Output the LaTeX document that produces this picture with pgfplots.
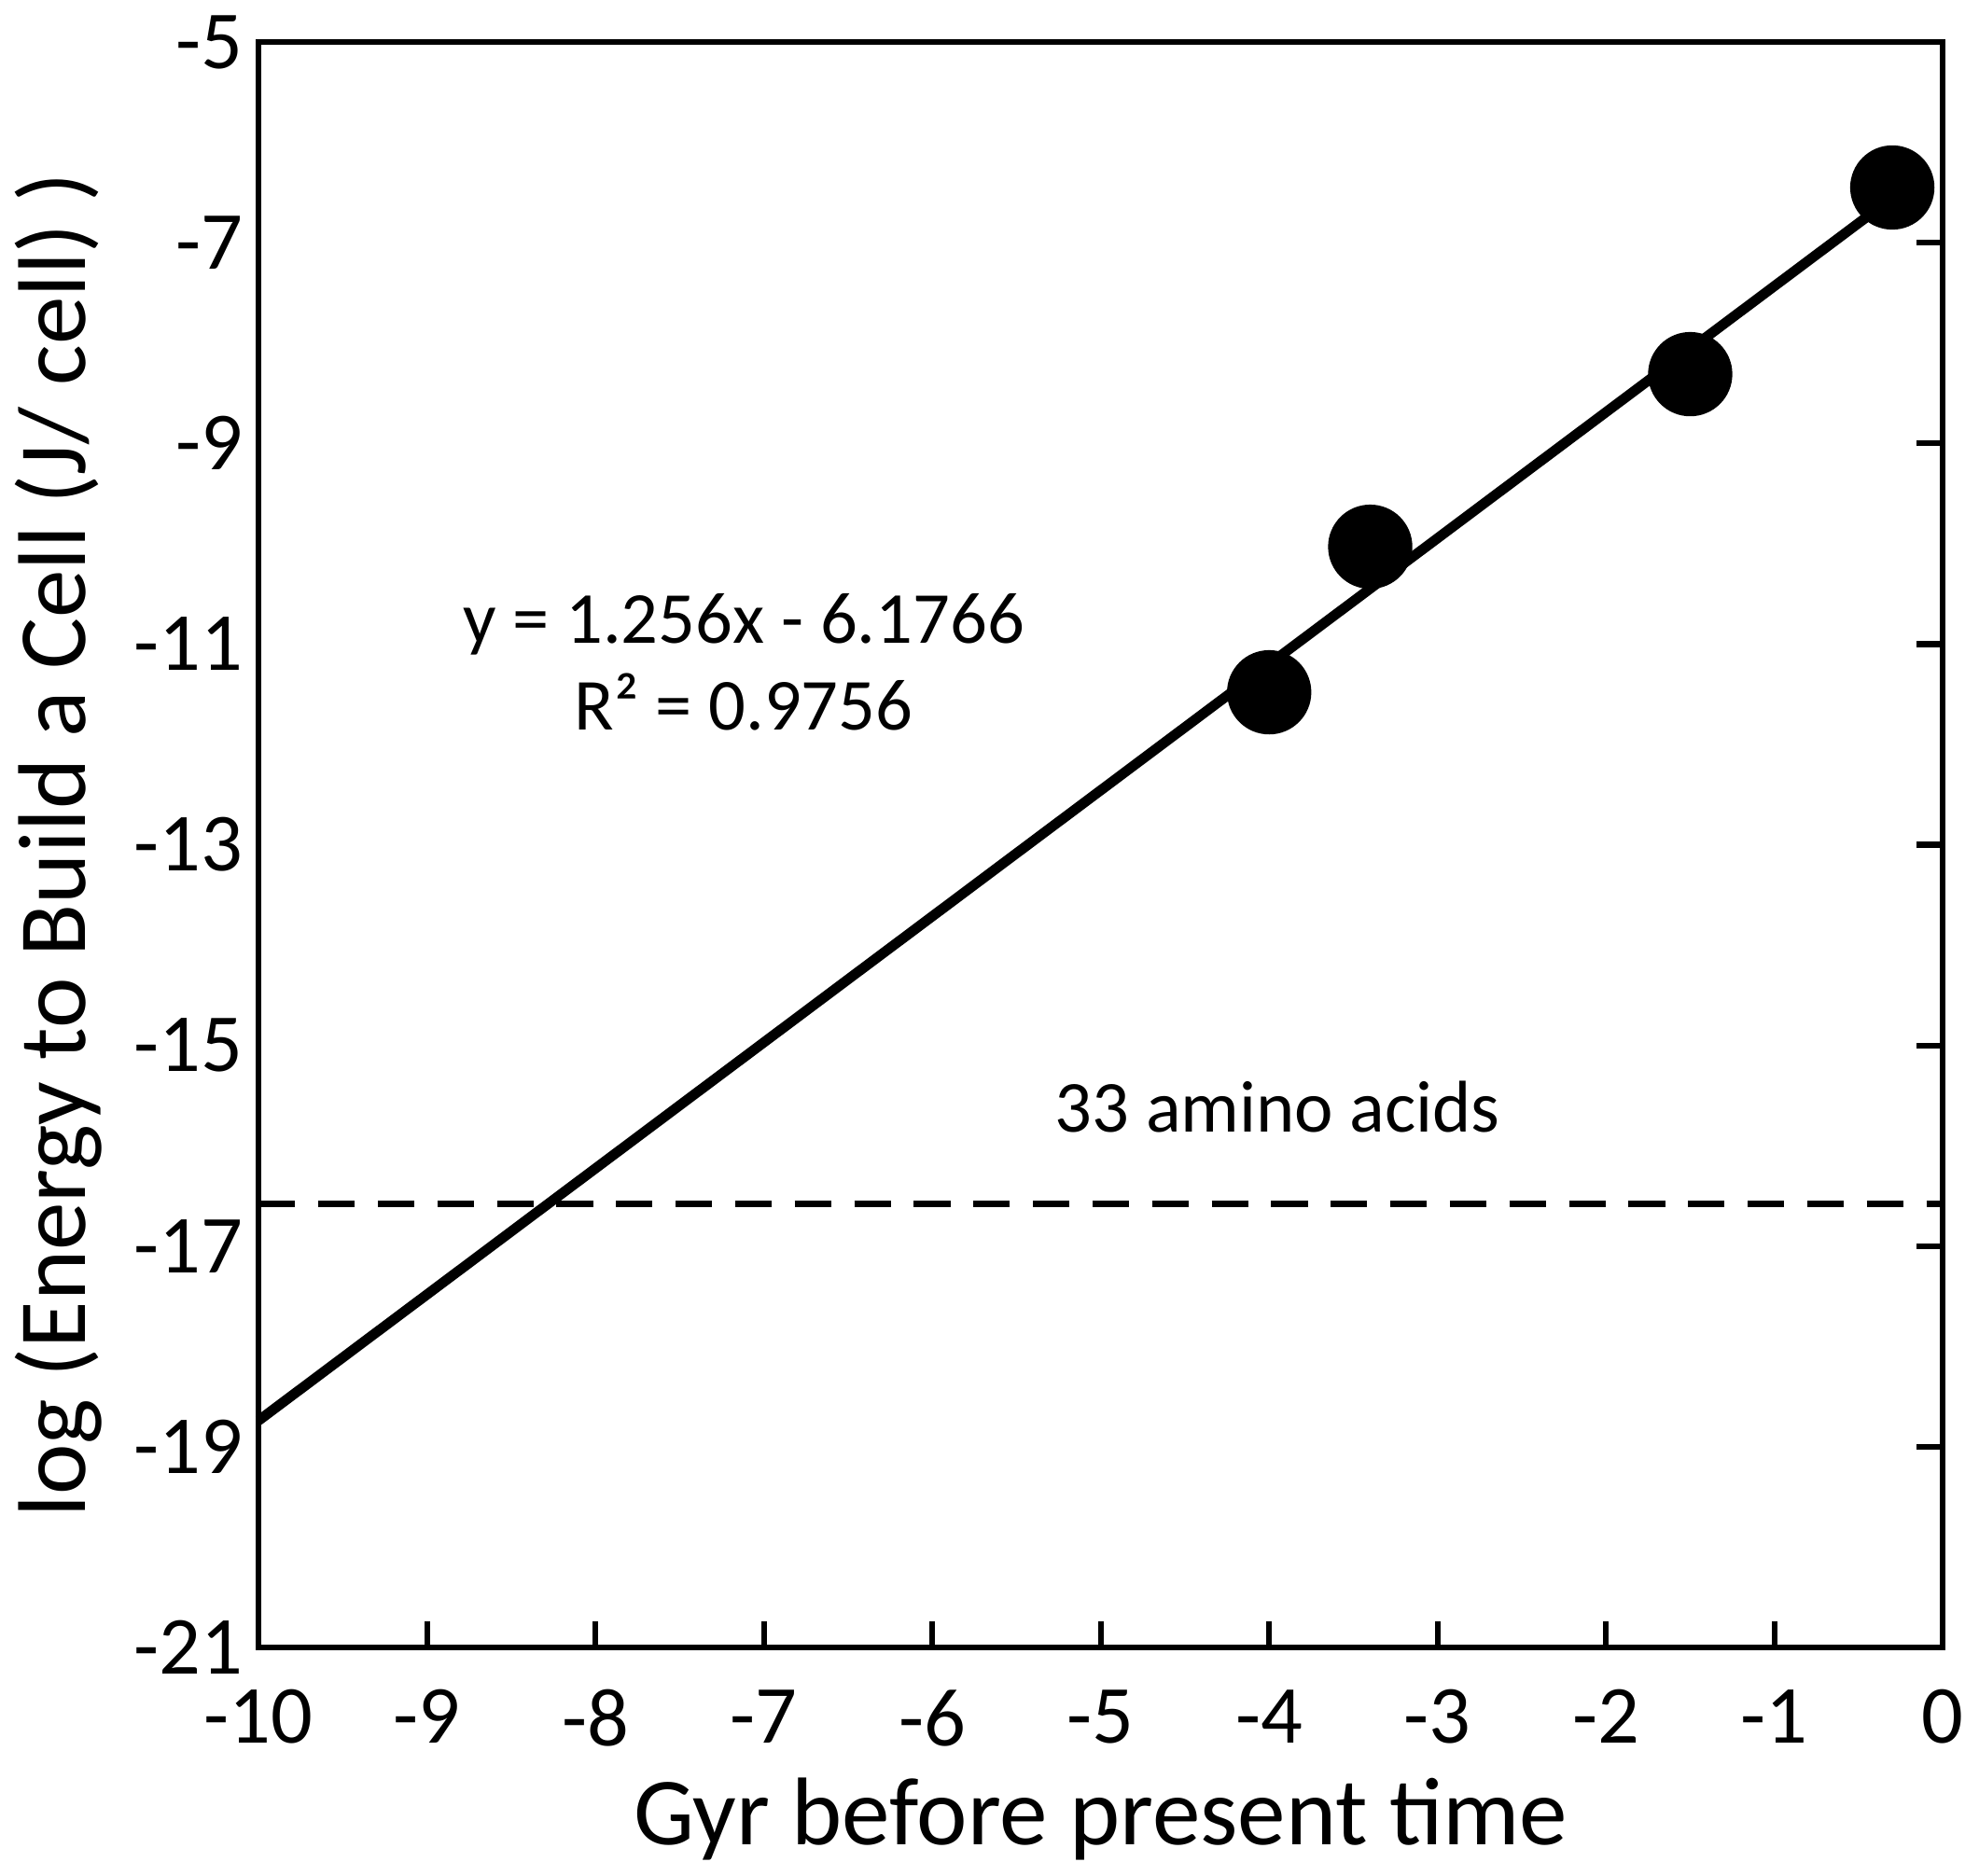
\documentclass[border=0pt]{standalone}
\usepackage{pgfplots}
\pgfplotsset{compat=1.18}
\usepackage{fontspec}
\setmainfont{Carlito}
\begin{document}
\begin{tikzpicture}
\begin{axis}[
  width=12.92cm, height=12.32cm, scale only axis,
  xmin=-10, xmax=0, ymin=-21, ymax=-5,
  xtick={-10,...,0}, ytick={-21,-19,...,-5},
  tick align=inside, ytick pos=right, yticklabel pos=left, xtick pos=bottom,
  major tick length=0.2cm,
  axis line style={line width=1.3pt}, tick style={line width=1.3pt, black},
  /pgf/number format/assume math mode=true,
  ticklabel style={font=\fontsize{18}{20}\selectfont},
  xticklabel style={yshift=-0.2cm},
  xlabel={Gyr before present time}, ylabel={log (Energy to Build a Cell (J/ cell) )},
  label style={font=\fontsize{21}{24}\selectfont},
  clip=false]
\addplot[black, line width=2.2pt, domain=-10:-0.3, samples=2] coordinates {(-10,-18.7366) (-0.3,-6.5534)};
\addplot[black, dashed, line width=1.5pt, dash pattern=on 8pt off 5pt] coordinates {(-10,-16.58) (0,-16.58)};
\addplot[only marks, mark=*, mark size=9pt, black] coordinates {(-0.3,-6.45) (-1.5,-8.31) (-3.4,-10.03) (-4.0,-11.48)};
\node[font=\fontsize{16}{19}\selectfont, align=center] at (axis cs:-7.12,-11.18) {y = 1.256x - 6.1766\\R² = 0.9756};
\node[font=\fontsize{16}{19}\selectfont] at (axis cs:-3.95,-15.61) {33 amino acids};
\end{axis}
\end{tikzpicture}
\end{document}
